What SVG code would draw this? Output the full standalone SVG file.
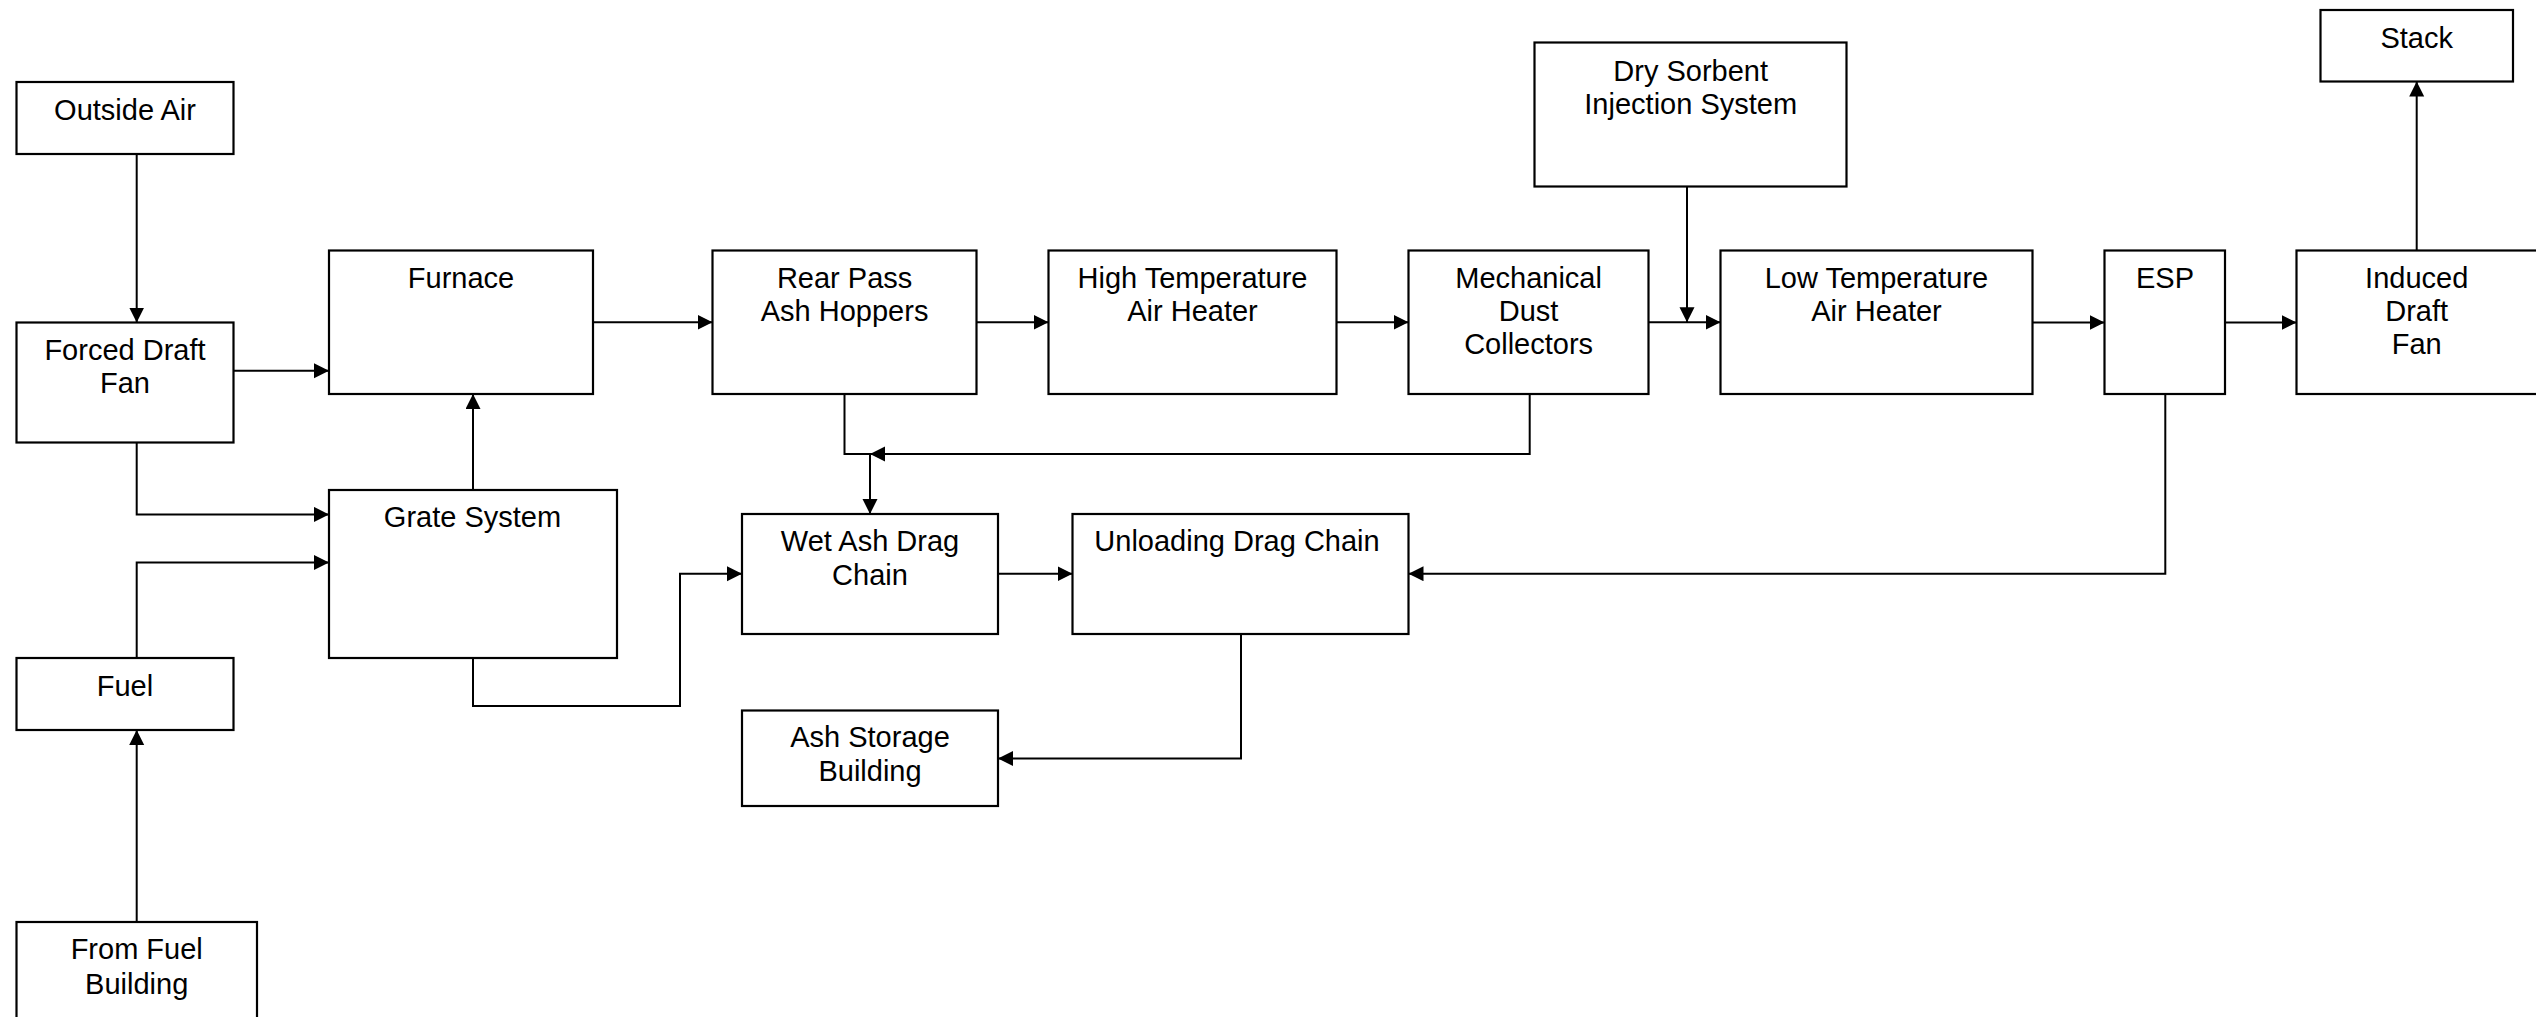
<svg xmlns="http://www.w3.org/2000/svg" width="2536" height="1017" viewBox="0 0 2536 1017">
<style>
.box{fill:#fff;stroke:#000;stroke-width:2.2}
.t{font-family:"Liberation Sans",Arial,sans-serif;font-size:29px;fill:#000;text-anchor:middle}
.c{fill:none;stroke:#000;stroke-width:2}
</style>
<defs>
<marker id="ah" markerUnits="userSpaceOnUse" markerWidth="16" markerHeight="16" refX="15" refY="7.5" orient="auto">
<path d="M0,0 L15,7.5 L0,15 z" fill="#000"/>
</marker>
</defs>
<rect width="2536" height="1017" fill="#fff"/>
<g id="connectors">
<path class="c" d="M136.7,154 V322.5" marker-end="url(#ah)"/>
<path class="c" d="M233.5,370.7 H329" marker-end="url(#ah)"/>
<path class="c" d="M136.7,442.5 V514.4 H329" marker-end="url(#ah)"/>
<path class="c" d="M136.7,658 V562.5 H329" marker-end="url(#ah)"/>
<path class="c" d="M136.7,922 V730" marker-end="url(#ah)"/>
<path class="c" d="M473,490 V394" marker-end="url(#ah)"/>
<path class="c" d="M473,658 V706 H680 V573.7 H742" marker-end="url(#ah)"/>
<path class="c" d="M593,322.3 H712.5" marker-end="url(#ah)"/>
<path class="c" d="M976.5,322.3 H1048.5" marker-end="url(#ah)"/>
<path class="c" d="M1336.5,322.3 H1408.5" marker-end="url(#ah)"/>
<path class="c" d="M1648.5,322.3 H1720.5" marker-end="url(#ah)"/>
<path class="c" d="M1687,186.5 V322.3" marker-end="url(#ah)"/>
<path class="c" d="M2032.5,322.5 H2104.5" marker-end="url(#ah)"/>
<path class="c" d="M2225,322.5 H2296.5" marker-end="url(#ah)"/>
<path class="c" d="M2416.7,250.5 V81.5" marker-end="url(#ah)"/>
<path class="c" d="M844.5,394 V454 H870 V514" marker-end="url(#ah)"/>
<path class="c" d="M1529.7,394 V454 H870" marker-end="url(#ah)"/>
<path class="c" d="M998,573.7 H1072.5" marker-end="url(#ah)"/>
<path class="c" d="M2165.3,394 V573.7 H1408.5" marker-end="url(#ah)"/>
<path class="c" d="M1241,634 V758.5 H998" marker-end="url(#ah)"/>
</g>
<g id="outside-air"><rect class="box" x="16.5" y="82" width="217" height="72"/><text class="t" x="125" y="120">Outside Air</text></g>
<g id="forced-draft-fan"><rect class="box" x="16.5" y="322.5" width="217" height="120"/><text class="t" x="125" y="359.5">Forced Draft</text><text class="t" x="125" y="393.3">Fan</text></g>
<g id="fuel"><rect class="box" x="16.5" y="658" width="217" height="72"/><text class="t" x="125" y="696">Fuel</text></g>
<g id="from-fuel-building"><rect class="box" x="16.5" y="922" width="240.5" height="120"/><text class="t" x="136.7" y="959.2">From Fuel</text><text class="t" x="136.7" y="993.6">Building</text></g>
<g id="furnace"><rect class="box" x="329" y="250.5" width="264" height="143.5"/><text class="t" x="461" y="287.7">Furnace</text></g>
<g id="grate-system"><rect class="box" x="329" y="490" width="288" height="168"/><text class="t" x="472.5" y="527">Grate System</text></g>
<g id="rear-pass"><rect class="box" x="712.5" y="250.5" width="264" height="143.5"/><text class="t" x="844.6" y="287.5">Rear Pass</text><text class="t" x="844.6" y="321.1">Ash Hoppers</text></g>
<g id="high-temp-air-heater"><rect class="box" x="1048.5" y="250.5" width="288" height="143.5"/><text class="t" x="1192.5" y="287.5">High Temperature</text><text class="t" x="1192.5" y="321.1">Air Heater</text></g>
<g id="mechanical-dust-collectors"><rect class="box" x="1408.5" y="250.5" width="240" height="143.5"/><text class="t" x="1528.6" y="287.7">Mechanical</text><text class="t" x="1528.6" y="321">Dust</text><text class="t" x="1528.6" y="354.3">Collectors</text></g>
<g id="dry-sorbent"><rect class="box" x="1534.5" y="42.5" width="312" height="144"/><text class="t" x="1690.7" y="81">Dry Sorbent</text><text class="t" x="1690.7" y="114.3">Injection System</text></g>
<g id="low-temp-air-heater"><rect class="box" x="1720.5" y="250.5" width="312" height="143.5"/><text class="t" x="1876.5" y="287.7">Low Temperature</text><text class="t" x="1876.5" y="321">Air Heater</text></g>
<g id="esp"><rect class="box" x="2104.5" y="250.5" width="120.5" height="143.5"/><text class="t" x="2165" y="288.3">ESP</text></g>
<g id="induced-draft-fan"><rect class="box" x="2296.5" y="250.5" width="244" height="143.5"/><text class="t" x="2416.7" y="287.5">Induced</text><text class="t" x="2416.7" y="321">Draft</text><text class="t" x="2416.7" y="354.3">Fan</text></g>
<g id="stack"><rect class="box" x="2320.5" y="10" width="192.5" height="71.5"/><text class="t" x="2416.7" y="48.3">Stack</text></g>
<g id="wet-ash-drag-chain"><rect class="box" x="742" y="514" width="256" height="120"/><text class="t" x="870" y="550.7">Wet Ash Drag</text><text class="t" x="870" y="584.8">Chain</text></g>
<g id="unloading-drag-chain"><rect class="box" x="1072.5" y="514" width="336" height="120"/><text class="t" x="1237" y="550.7">Unloading Drag Chain</text></g>
<g id="ash-storage-building"><rect class="box" x="742" y="710.5" width="256" height="95.5"/><text class="t" x="870" y="747.4">Ash Storage</text><text class="t" x="870" y="781">Building</text></g>
</svg>
